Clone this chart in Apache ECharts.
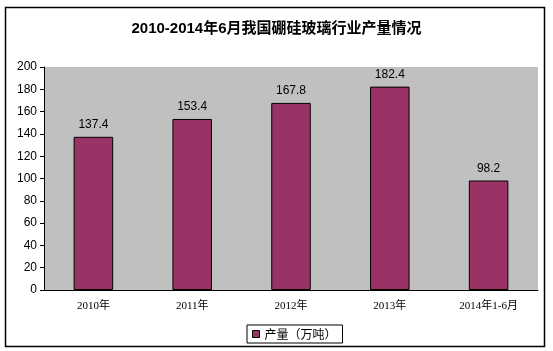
<!DOCTYPE html>
<html>
<head>
<meta charset="utf-8">
<script src="https://cdn.jsdelivr.net/npm/echarts@6/dist/echarts.min.js"></script>
<style>
  html, body { margin: 0; padding: 0; background: #fff; }
  #main { width: 553px; height: 351px; }
</style>
</head>
<body>
<div id="main"></div>
<script>
var categories = ['2010年', '2011年', '2012年', '2013年', '2014年1-6月'];
var output = [137.4, 153.4, 167.8, 182.4, 98.2];
var seriesName = '产量（万吨）';

var myChart = echarts.init(document.getElementById('main'), null, { renderer: 'canvas' });

var option = {
  animation: false,
  backgroundColor: '#fff',
  title: {
    text: '2010-2014年6月我国硼硅玻璃行业产量情况',
    left: 'center',
    top: 16,
    textStyle: { fontSize: 15, fontWeight: 'bold', color: '#000', fontFamily: 'Liberation Sans, Noto Sans CJK SC' }
  },
  graphic: [{
    type: 'rect',
    shape: { x: 5.5, y: 7.5, width: 539, height: 339 },
    style: { fill: 'none', stroke: '#000', lineWidth: 1.5 },
    silent: true
  }],
  legend: {
    bottom: 8,
    left: 247,
    icon: 'rect',
    itemWidth: 7,
    itemHeight: 7,
    itemGap: 4,
    padding: [3, 6, 3, 5],
    borderColor: '#000',
    borderWidth: 1,
    textStyle: { fontSize: 12, color: '#000', fontFamily: 'Noto Sans CJK SC' },
    data: [{ name: seriesName, itemStyle: { borderColor: '#000', borderWidth: 1 } }]
  },
  grid: { left: 44, right: 15, top: 67, bottom: 61, show: true, backgroundColor: '#c0c0c0', borderWidth: 0 },
  xAxis: {
    type: 'category',
    data: categories,
    axisLine: { lineStyle: { color: '#000' } },
    axisTick: { inside: true, length: 4, lineStyle: { color: '#000' } },
    axisLabel: { fontSize: 11, color: '#000', margin: 11, fontFamily: 'Liberation Serif, Noto Sans CJK SC' }
  },
  yAxis: {
    type: 'value',
    min: 0,
    max: 200,
    interval: 20,
    splitLine: { show: false },
    axisLine: { show: true, lineStyle: { color: '#000' } },
    axisTick: { show: true, length: 4, lineStyle: { color: '#000' } },
    axisLabel: { fontSize: 12, color: '#000', margin: 7, fontFamily: 'Liberation Sans' }
  },
  series: [{
    name: seriesName,
    type: 'bar',
    data: output,
    barWidth: '40%',
    itemStyle: { color: '#993366', borderColor: '#000', borderWidth: 1 },
    label: { show: true, position: 'top', distance: 6, fontSize: 12, color: '#000', fontFamily: 'Liberation Sans' }
  }]
};

myChart.setOption(option);
window.addEventListener('resize', myChart.resize);
</script>
</body>
</html>
